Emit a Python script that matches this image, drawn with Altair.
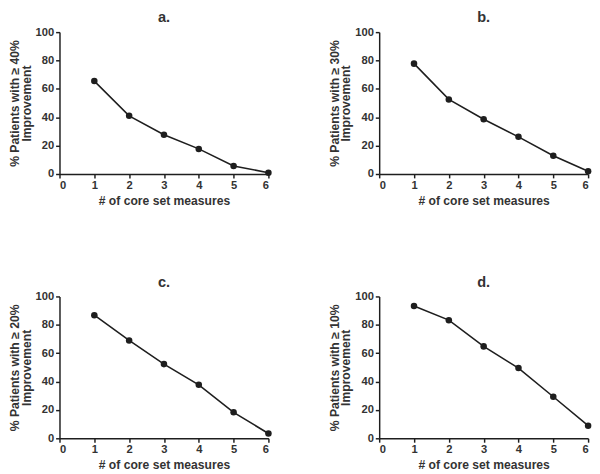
import altair as alt
import pandas as pd

measures = [1, 2, 3, 4, 5, 6]
pct_40 = [65.5, 41, 27.7, 17.7, 5.7, 0.9]
pct_30 = [77.8, 52.6, 38.6, 26.2, 12.9, 1.9]
pct_20 = [86.8, 69, 52.3, 37.7, 18.3, 3.4]
pct_10 = [93.2, 83.3, 64.8, 49.5, 29.3, 8.9]

panels = [
    ("a.", "40%", pct_40),
    ("b.", "30%", pct_30),
    ("c.", "20%", pct_20),
    ("d.", "10%", pct_10),
]

FONT = "Liberation Sans"
INK = "#1e1e1e"


def panel(label, thr, vals):
    df = pd.DataFrame({"x": measures, "y": vals})
    x = alt.X("x:Q", scale=alt.Scale(domain=[0, 6], nice=False),
              axis=alt.Axis(values=[0, 1, 2, 3, 4, 5, 6], title="# of core set measures",
                            format="d"))
    y = alt.Y("y:Q", scale=alt.Scale(domain=[0, 100], nice=False),
              axis=alt.Axis(values=[0, 20, 40, 60, 80, 100],
                            title=[f"%  Patients with  \u2265  {thr}", "Improvement"]))
    base = alt.Chart(df).encode(x=x, y=y)
    line = base.mark_line(color=INK, strokeWidth=1.6)
    pts = base.mark_point(filled=True, color=INK, size=45, opacity=1)
    return (line + pts).properties(
        width=215, height=146,
        title=alt.Title(label, fontSize=15, font=FONT, fontWeight="bold", color="#333333", offset=1),
    )


charts = [panel(*p) for p in panels]
chart = alt.vconcat(
    alt.hconcat(charts[0], charts[1], spacing=57),
    alt.hconcat(charts[2], charts[3], spacing=57),
    spacing=70,
).properties(padding={"left": 0, "top": -4, "right": 0, "bottom": 0}).configure_view(
    stroke=None
).configure_axis(
    grid=False,
    domainColor=INK,
    tickColor=INK,
    domainWidth=1.5,
    tickWidth=1.5,
    tickSize=4,
    labelFont=FONT,
    labelFontWeight="bold",
    labelFontSize=11.5,
    labelColor="#333333",
    titleFont=FONT,
    titleFontWeight="bold",
    titleFontSize=12.5,
    titleColor="#333333",
    labelPadding=2,
).configure_axisY(titlePadding=2, titleLineHeight=12).configure_axisX(titlePadding=4)

chart.save("out.html", embed_options={"renderer": "svg", "actions": False})
